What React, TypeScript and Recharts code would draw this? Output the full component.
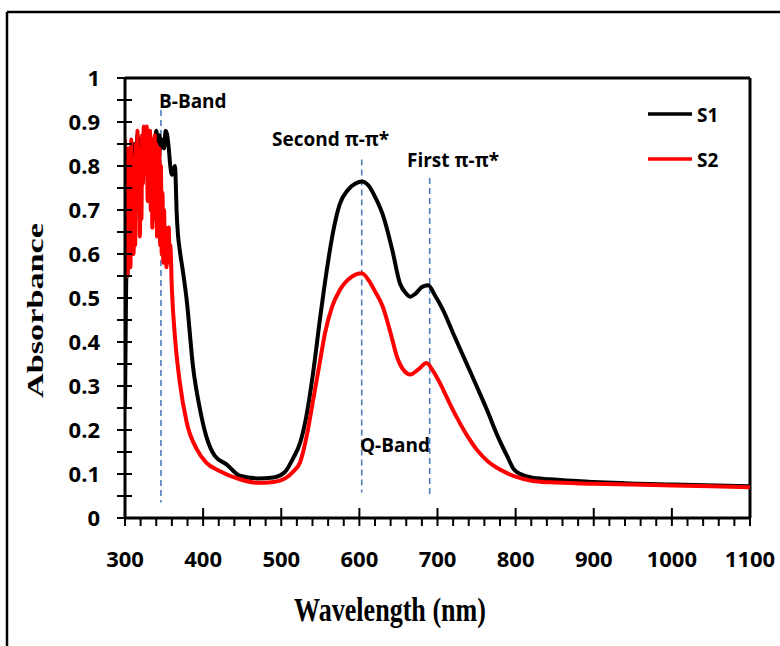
import React from 'react';
import { LineChart, Line, XAxis, YAxis, ReferenceLine } from 'recharts';

// S1 (black) spectrum
const s1Wavelength = [
  300, 301, 302, 303, 304, 306, 308, 309, 310, 311, 312, 314, 316, 318, 320, 322, 324, 326, 328, 330,
  332, 334, 336, 338, 340, 342, 344, 346, 348, 350, 352, 354, 356, 358, 360, 362, 364, 365, 366, 368,
  370, 375, 379, 387, 396, 404, 415, 430, 447, 470, 490, 505, 515, 524, 532, 540, 550, 558, 566, 575,
  585, 595, 603, 612, 620, 631, 642, 652, 660, 665, 672, 680, 688, 697, 707, 720, 737, 750, 763, 776,
  789, 798, 806, 820, 844, 900, 1000, 1100,
];
const s1Absorbance = [
  0.25, 0.45, 0.57, 0.55, 0.62, 0.78, 0.84, 0.75, 0.6, 0.72, 0.85, 0.8, 0.87, 0.82, 0.86, 0.8, 0.87, 0.83, 0.88, 0.84,
  0.87, 0.82, 0.86, 0.84, 0.88, 0.85, 0.87, 0.84, 0.86, 0.84, 0.88, 0.87, 0.84, 0.8, 0.78, 0.79, 0.8, 0.76, 0.7, 0.64,
  0.61, 0.55, 0.495, 0.345, 0.247, 0.186, 0.141, 0.122, 0.096, 0.09, 0.092, 0.105, 0.135, 0.17, 0.23, 0.32, 0.458, 0.56, 0.647, 0.714,
  0.745, 0.76, 0.765, 0.755, 0.73, 0.684, 0.61, 0.533, 0.51, 0.503, 0.51, 0.525, 0.529, 0.505, 0.473, 0.42, 0.352, 0.3, 0.247, 0.19,
  0.141, 0.11, 0.1, 0.092, 0.088, 0.082, 0.076, 0.072,
];

// S2 (red) spectrum
const s2Wavelength = [
  300, 301, 302, 303, 304, 305, 306, 307, 308, 309, 310, 311, 312, 313, 314, 315, 316, 317, 318, 319,
  320, 321, 322, 323, 324, 325, 326, 327, 328, 329, 330, 331, 332, 333, 334, 335, 336, 337, 338, 339,
  340, 341, 342, 343, 344, 345, 346, 347, 348, 349, 350, 351, 352, 353, 354, 355, 356, 357, 358, 360,
  364, 370, 379, 392, 404, 421, 447, 470, 490, 505, 515, 524, 533, 541, 549, 556, 565, 575, 590, 603,
  612, 620, 630, 640, 648, 657, 665, 675, 686, 694, 703, 713, 724, 737, 750, 765, 780, 800, 822, 844,
  900, 1000, 1100,
];
const s2Absorbance = [
  0.86, 0.62, 0.8, 0.55, 0.84, 0.6, 0.78, 0.57, 0.86, 0.66, 0.82, 0.6, 0.75, 0.62, 0.85, 0.7, 0.88, 0.74, 0.84, 0.64,
  0.8, 0.68, 0.87, 0.76, 0.89, 0.8, 0.88, 0.78, 0.89, 0.72, 0.86, 0.76, 0.88, 0.7, 0.86, 0.66, 0.84, 0.72, 0.87, 0.68,
  0.85, 0.64, 0.82, 0.7, 0.84, 0.62, 0.8, 0.6, 0.74, 0.58, 0.7, 0.62, 0.66, 0.57, 0.64, 0.58, 0.66, 0.6, 0.62, 0.52,
  0.41, 0.31, 0.217, 0.156, 0.126, 0.107, 0.088, 0.08, 0.082, 0.09, 0.105, 0.126, 0.19, 0.27, 0.35, 0.42, 0.48, 0.518, 0.548, 0.556,
  0.54, 0.515, 0.48, 0.42, 0.367, 0.335, 0.326, 0.337, 0.352, 0.335, 0.307, 0.27, 0.231, 0.19, 0.156, 0.128, 0.11, 0.094, 0.084, 0.081,
  0.078, 0.074, 0.07,
];

// axis ticks
const xTickValues = [
  300, 320, 340, 360, 380, 400, 420, 440, 460, 480, 500, 520, 540, 560, 580, 600, 620, 640, 660, 680,
  700, 720, 740, 760, 780, 800, 820, 840, 860, 880, 900, 920, 940, 960, 980, 1000, 1020, 1040, 1060, 1080, 1100,
];
const yTickValues = [
  0, 0.05, 0.1, 0.15, 0.2, 0.25, 0.3, 0.35, 0.4, 0.45, 0.5, 0.55, 0.6, 0.65, 0.7, 0.75, 0.8, 0.85, 0.9, 0.95, 1,
];

// band marker lines: wavelength, top, bottom
const markerWavelength = [346, 603, 690];
const markerTop = [0.927, 0.815, 0.773];
const markerBottom = [0.035, 0.058, 0.048];

const s1Data = s1Wavelength.map((w, i) => ({ w, a: s1Absorbance[i] }));
const s2Data = s2Wavelength.map((w, i) => ({ w, a: s2Absorbance[i] }));

const tickFont = "'Open Sans', sans-serif";

const XTick = (props: any) => {
  const { x, y, payload } = props;
  const v = payload.value as number;
  const major = v % 100 === 0;
  return (
    <g>
      <line x1={x} x2={x} y1={y} y2={y + 8} stroke="#000" strokeWidth={2} />
      {major && <line x1={x} x2={x} y1={y} y2={y - 10} stroke="#000" strokeWidth={2} />}
      {major && (
        <text x={x} y={y + 49} textAnchor="middle" fontFamily={tickFont} fontWeight={700} fontSize={22} fill="#000">
          {v}
        </text>
      )}
    </g>
  );
};

const YTick = (props: any) => {
  const { x, y, payload } = props;
  const v = payload.value as number;
  const major = Math.round(v * 100) % 10 === 0;
  return (
    <g>
      <line x1={x - 8} x2={x + 7} y1={y} y2={y} stroke="#000" strokeWidth={2} />
      {major && (
        <text x={x - 25} y={y + 8} textAnchor="end" fontFamily={tickFont} fontWeight={700} fontSize={22} fill="#000">
          {String(Math.round(v * 10) / 10)}
        </text>
      )}
    </g>
  );
};

const annoStyle = { fontFamily: tickFont, fontWeight: 700, fontSize: 19, fill: '#000' } as const;

export default function App() {
  return (
    <div style={{ position: 'absolute', left: 0, top: 0, width: 780, height: 646, background: '#fff' }}>
      <LineChart width={780} height={646} margin={{ top: 78, right: 30, bottom: 68, left: 0 }}>
        <XAxis
          dataKey="w"
          type="number"
          domain={[300, 1100]}
          ticks={xTickValues}
          interval={0}
          height={60}
          tickSize={0}
          tickMargin={0}
          tickLine={false}
          axisLine={{ stroke: '#000', strokeWidth: 3 }}
          tick={<XTick />}
          allowDataOverflow
        />
        <YAxis
          type="number"
          domain={[0, 1]}
          ticks={yTickValues}
          interval={0}
          width={125}
          tickSize={0}
          tickMargin={0}
          tickLine={false}
          axisLine={{ stroke: '#000', strokeWidth: 3 }}
          tick={<YTick />}
          allowDataOverflow
        />
        <ReferenceLine y={1} stroke="#000" strokeWidth={3} ifOverflow="extendDomain" />
        <ReferenceLine x={1100} stroke="#000" strokeWidth={3} ifOverflow="extendDomain" />
        {markerWavelength.map((w, i) => (
          <ReferenceLine
            key={w}
            segment={[
              { x: w, y: markerTop[i] },
              { x: w, y: markerBottom[i] },
            ]}
            stroke="#4f7fbd"
            strokeWidth={1.6}
            strokeDasharray="6 4"
          />
        ))}
        <Line
          data={s1Data}
          dataKey="a"
          type="monotone"
          stroke="#000"
          strokeWidth={4}
          dot={false}
          strokeLinejoin="round"
          isAnimationActive={false}
        />
        <Line
          data={s2Data}
          dataKey="a"
          type="monotone"
          stroke="#ff0000"
          strokeWidth={4}
          dot={false}
          strokeLinejoin="round"
          isAnimationActive={false}
        />
      </LineChart>
      <svg
        width={780}
        height={646}
        style={{ position: 'absolute', left: 0, top: 0, pointerEvents: 'none' }}
      >
        <line x1={7} y1={12} x2={780} y2={12} stroke="#000" strokeWidth={2.5} />
        <line x1={7} y1={12} x2={7} y2={646} stroke="#000" strokeWidth={2.5} />
        <text
          x={0}
          y={0}
          transform="translate(43 310.5) rotate(-90)"
          textAnchor="middle"
          fontFamily="'Liberation Serif', 'Times New Roman', serif"
          fontWeight={700}
          fontSize={23}
          textLength={175}
          lengthAdjust="spacingAndGlyphs"
          fill="#000"
        >
          Absorbance
        </text>
        <text
          x={390}
          y={621}
          textAnchor="middle"
          fontFamily="'Liberation Serif', 'Times New Roman', serif"
          fontWeight={700}
          fontSize={33}
          textLength={192}
          lengthAdjust="spacingAndGlyphs"
          fill="#000"
        >
          Wavelength (nm)
        </text>
        <text x={159} y={108} {...annoStyle}>B-Band</text>
        <text x={272} y={146} {...annoStyle}>Second π-π*</text>
        <text x={407} y={167} {...annoStyle}>First π-π*</text>
        <text x={360} y={452} {...annoStyle}>Q-Band</text>
        <line x1={648} x2={692} y1={114} y2={114} stroke="#000" strokeWidth={3.5} />
        <text x={697} y={122} {...annoStyle}>S1</text>
        <line x1={648} x2={692} y1={159} y2={159} stroke="#ff0000" strokeWidth={3.5} />
        <text x={697} y={167} {...annoStyle}>S2</text>
      </svg>
    </div>
  );
}
